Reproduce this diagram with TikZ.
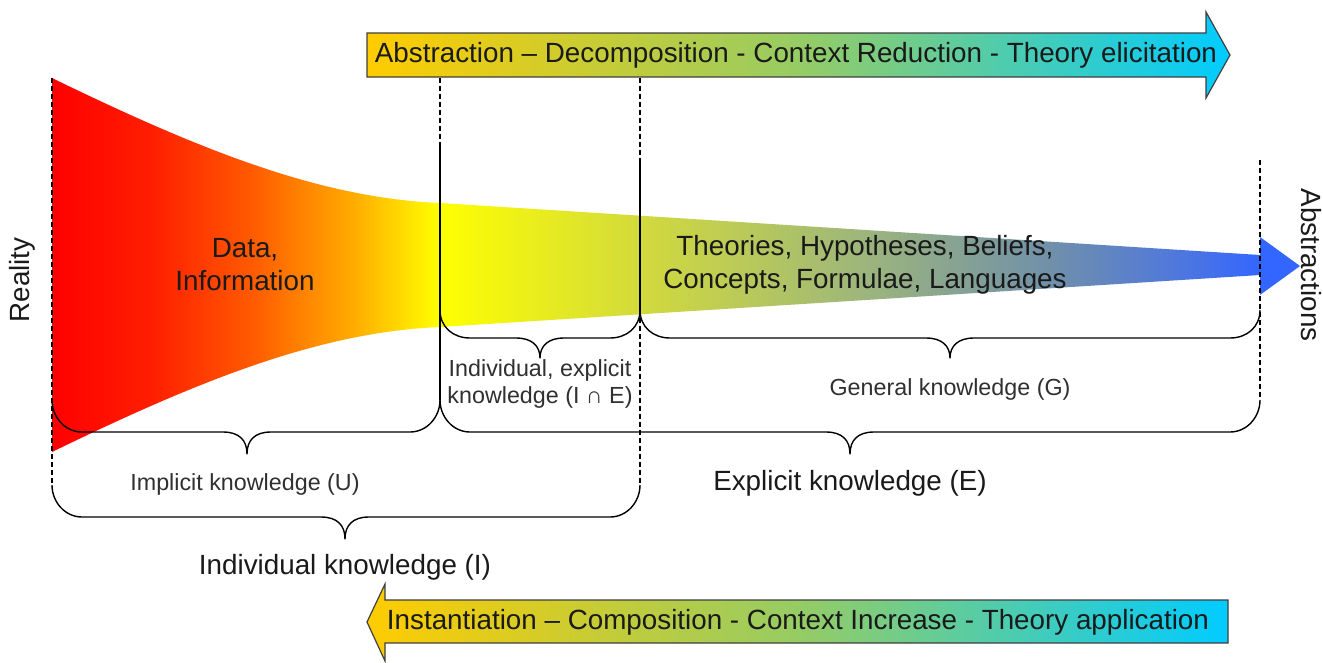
\documentclass[tikz,border=0pt]{standalone}
\usepackage{fontspec}
\setmainfont{Liberation Sans}
\usetikzlibrary{calc}
\definecolor{txt}{HTML}{1A1A1A}
\definecolor{txtsmall}{HTML}{303030}
\definecolor{outl}{HTML}{404040}
\pgfdeclarehorizontalshading{funnelshade}{100bp}{%
 color(0bp)=(red); color(25bp)=(red);
 color(29bp)=({rgb,255:red,255;green,30;blue,0});
 color(33bp)=({rgb,255:red,255;green,90;blue,0});
 color(37bp)=({rgb,255:red,255;green,170;blue,0});
 color(40.5bp)=(yellow);
 color(48.6bp)=({rgb,255:red,210;green,218;blue,60});
 color(57bp)=({rgb,255:red,160;green,184;blue,120});
 color(65bp)=({rgb,255:red,112;green,144;blue,170});
 color(70bp)=({rgb,255:red,80;green,120;blue,220});
 color(73.4bp)=({rgb,255:red,51;green,102;blue,255});
 color(100bp)=({rgb,255:red,51;green,102;blue,255})}
\pgfdeclarehorizontalshading{arrowshade}{100bp}{%
 color(0bp)=({rgb,255:red,255;green,204;blue,0});
 color(25bp)=({rgb,255:red,255;green,204;blue,0});
 color(50bp)=({rgb,255:red,150;green,204;blue,100});
 color(75bp)=({rgb,255:red,0;green,204;blue,255});
 color(100bp)=({rgb,255:red,0;green,204;blue,255})}
\tikzset{
 bigtext/.style={text=txt,font=\fontsize{27.8}{33}\selectfont,align=center,inner sep=0pt},
 smalltext/.style={text=txtsmall,font=\fontsize{23.3}{27}\selectfont,align=center,inner sep=0pt},
 bracepath/.style={draw=black,line width=1.4pt,line join=round},
 vline/.style={draw=black,line width=1.4pt},
 dline/.style={draw=black,line width=1.1pt,dash pattern=on 5pt off 3pt},
 arrowbox/.style={draw=outl,line width=1.2pt,shading=arrowshade}
}
\newcommand\kbrace[6]{%
 \draw[bracepath] (#1,#4) .. controls (#1,{#4+17}) and ({#1+13},#5) .. ({#1+30},#5) -- ({#3-24},#5)
   .. controls ({#3-8},#5) and (#3,{#5+8}) .. (#3,#6)
   .. controls (#3,{#5+8}) and ({#3+8},#5) .. ({#3+24},#5)
   -- ({#2-30},#5) .. controls ({#2-13},#5) and (#2,{#4+17}) .. (#2,#4);}
\begin{document}
\begin{tikzpicture}[x=1pt,y=-1pt]
\useasboundingbox[fill=white] (0,0) rectangle (1323,662);
% funnel
\shade[shading=funnelshade] (52,78) .. controls (200,150) and (320,198) .. (440,203)
  -- (1260,255) -- (1260,237) -- (1300,266) -- (1260,295) -- (1260,275)
  -- (440,327) .. controls (320,332) and (200,380) .. (52,452) -- cycle;
% top arrow
\path[arrowbox] (367,33) -- (1206,33) -- (1206,12) -- (1230,55) -- (1206,98)
  -- (1206,77) -- (367,77) -- cycle;
\node[bigtext] (toptext) at (796,55) {Abstraction – Decomposition - Context Reduction - Theory elicitation};
% bottom arrow
\path[arrowbox] (1228,600) -- (385,600) -- (385,584) -- (367,622) -- (385,661)
  -- (385,643) -- (1228,643) -- cycle;
\node[bigtext] (bottext) at (798,622) {Instantiation – Composition - Context Increase - Theory application};
% dashed and solid verticals
\draw[dline] (52,78) -- (52,485);
\draw[dline] (440,78) -- (440,143);
\draw[vline] (440,143) -- (440,400);
\draw[dline] (640,78) -- (640,160);
\draw[vline] (640,160) -- (640,310);
\draw[dline] (640,310) -- (640,485);
\draw[dline] (1260,160) -- (1260,400);
% braces
\kbrace{440}{640}{540}{310}{338}{358}
\kbrace{640}{1260}{950}{310}{338}{358}
\kbrace{52}{440}{247}{400}{432}{454}
\kbrace{440}{1260}{850}{400}{432}{454}
\kbrace{52}{640}{345}{485}{517}{539}
% texts
\node[bigtext] (data) at (245,265) {Data,\\Information};
\node[bigtext] (theories) at (865,265) {Theories, Hypotheses, Beliefs,\\Concepts, Formulae, Languages};
\node[bigtext,rotate=90] (reality) at (22,280) {Reality};
\node[bigtext,rotate=-90] (abstr) at (1311,265) {Abstractions};
\node[smalltext] (ie) at (540,384) {Individual, explicit\\knowledge (I ∩ E)};
\node[smalltext] (gen) at (950,389) {General knowledge (G)};
\node[smalltext] (impl) at (245,484) {Implicit knowledge (U)};
\node[bigtext] (expl) at (850,483) {Explicit knowledge (E)};
\node[bigtext] (indiv) at (345,567) {Individual knowledge (I)};
\end{tikzpicture}
\end{document}
